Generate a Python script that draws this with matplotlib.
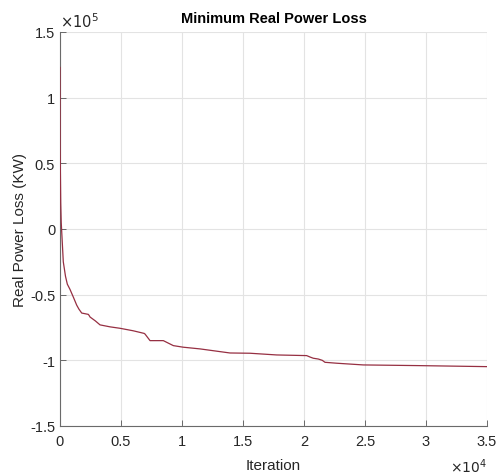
import matplotlib
matplotlib.use("Agg")
import matplotlib.pyplot as plt
from matplotlib.ticker import FuncFormatter, MultipleLocator

iterations = [0, 5, 10, 30, 60, 100, 140, 270, 450, 600, 820, 1100, 1370, 1550, 1780,
              2320, 2400, 2460, 2900, 3280, 4100, 4920, 6000, 6900, 6970, 7380,
              8470, 8900, 9290, 10100, 11480, 13930, 15570, 17760, 20220, 20500,
              20760, 21170, 21500, 21720, 22680, 24860, 29240, 35000]
loss_e5 = [1.23, 1.0, 0.62, 0.45, 0.2, 0.05, -0.02, -0.25, -0.36, -0.42, -0.46,
           -0.52, -0.58, -0.61, -0.64, -0.65, -0.66, -0.67, -0.70, -0.73, -0.745,
           -0.756, -0.775, -0.795, -0.80, -0.85, -0.85, -0.87, -0.888, -0.90,
           -0.913, -0.944, -0.946, -0.959, -0.964, -0.975, -0.984, -0.99, -1.0,
           -1.015, -1.022, -1.035, -1.04, -1.048]
loss = [v * 1e5 for v in loss_e5]

plt.rcParams['font.family'] = ['Liberation Sans', 'DejaVu Sans']

fig = plt.figure(figsize=(4.97, 4.77), dpi=100)
ax = fig.add_axes([60/497, 50/477, 427/497, 394/477])

ax.plot(iterations, loss, color='#962f42', lw=0.9, zorder=3)

ax.set_xlim(0, 35000)
ax.set_ylim(-1.5e5, 1.5e5)
ax.xaxis.set_major_locator(MultipleLocator(5000))
ax.yaxis.set_major_locator(MultipleLocator(0.5e5))
fmt = lambda s: FuncFormatter(lambda v, p: ('%g' % round(v / s, 3)))
ax.xaxis.set_major_formatter(fmt(1e4))
ax.yaxis.set_major_formatter(fmt(1e5))

ax.grid(True, color='#e3e3e3', lw=0.8)
ax.set_axisbelow(True)
ax.tick_params(direction='in', length=4, width=0.6, colors='#555555',
               labelsize=10.5, labelcolor='#262626')
ax.tick_params(axis='x', pad=6)
ax.tick_params(top=False, right=False)
for side in ['top', 'right']:
    ax.spines[side].set_visible(False)
for side in ['left', 'bottom']:
    ax.spines[side].set_color('#6a6a6a')
    ax.spines[side].set_linewidth(0.8)

ax.set_xlabel('Iteration', fontsize=11, color='#262626', labelpad=7)
ax.set_ylabel('Real Power Loss (KW)', fontsize=11, color='#262626', labelpad=2)
ax.set_title('Minimum Real Power Loss', fontsize=10.5, fontweight='bold',
             color='#000000', pad=7)

ax.text(0.0, 1.005, r'$\times10^5$', transform=ax.transAxes, fontsize=10.5,
        color='#262626', ha='left', va='bottom', math_fontfamily='dejavusans')
ax.text(1.0, -0.076, r'$\times10^4$', transform=ax.transAxes, fontsize=10,
        color='#262626', ha='right', va='top', math_fontfamily='dejavusans')

fig.savefig('out.png', dpi=100)
